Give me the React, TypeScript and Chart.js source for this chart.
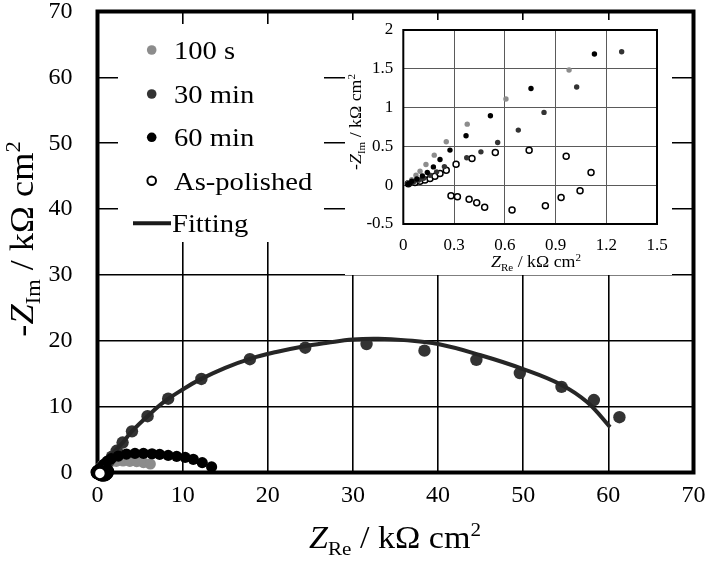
import React, { useEffect, useRef, useState } from 'react';
import { Chart, registerables } from 'chart.js';
Chart.register(...registerables);

// ---------- tick labels ----------
const MAIN_X_TICKS = [0, 10, 20, 30, 40, 50, 60, 70];
const MAIN_Y_TICKS = [0, 10, 20, 30, 40, 50, 60, 70];
const INSET_X_TICKS = [0, 0.3, 0.6, 0.9, 1.2, 1.5];
const INSET_Y_TICKS = [-0.5, 0, 0.5, 1, 1.5, 2];

// ---------- series names ----------
const SERIES_NAMES = ['100 s', '30 min', '60 min', 'As-polished', 'Fitting'];

// ---------- data (kΩ cm²) ----------
const S100_X = [0.03, 0.05, 0.075, 0.099, 0.134, 0.183, 0.254, 0.378, 0.607, 0.98, 1.6, 2.2, 3.0, 3.8, 4.6, 5.4, 6.2];
const S100_Y = [0.03, 0.07, 0.129, 0.18, 0.267, 0.387, 0.559, 0.787, 1.11, 1.484, 1.65, 1.7, 1.75, 1.7, 1.65, 1.5, 1.3];

const S30_X = [0.03, 0.06, 0.09, 0.12, 0.158, 0.197, 0.243, 0.375, 0.459, 0.558, 0.68, 0.832, 1.025, 1.291, 1.7, 2.25, 2.95, 4.05, 5.88, 8.3, 12.2, 17.9, 24.4, 31.6, 38.4, 44.5, 49.6, 54.5, 58.3, 61.3];
const S30_Y = [0.02, 0.04, 0.065, 0.09, 0.129, 0.172, 0.24, 0.353, 0.43, 0.551, 0.71, 0.938, 1.265, 1.72, 2.4, 3.3, 4.55, 6.25, 8.55, 11.2, 14.2, 17.2, 18.95, 19.5, 18.5, 17.1, 15.1, 13.0, 11.0, 8.4];

const S60_X = [0.03, 0.05, 0.08, 0.113, 0.142, 0.178, 0.217, 0.276, 0.371, 0.515, 0.755, 1.13, 1.6, 2.45, 3.4, 4.4, 5.4, 6.4, 7.3, 8.3, 9.3, 10.3, 11.25, 12.3, 13.4];
const S60_Y = [0.02, 0.05, 0.08, 0.12, 0.163, 0.236, 0.331, 0.452, 0.637, 0.895, 1.247, 1.69, 2.1, 2.5, 2.8, 2.9, 2.9, 2.85, 2.75, 2.6, 2.45, 2.3, 2.0, 1.5, 0.85];

const POL_X = [0.03, 0.069, 0.099, 0.128, 0.158, 0.187, 0.217, 0.254, 0.312, 0.406, 0.544, 0.744, 0.963, 1.11, 1.045, 0.933, 0.84, 0.643, 0.481, 0.434, 0.389, 0.32, 0.282];
const POL_Y = [0.02, 0.035, 0.052, 0.068, 0.086, 0.116, 0.151, 0.193, 0.27, 0.343, 0.42, 0.45, 0.373, 0.163, -0.073, -0.159, -0.266, -0.321, -0.283, -0.227, -0.18, -0.15, -0.137];

const FIT_X = [0, 0.5, 1, 2, 3, 4, 6, 8, 10, 12, 15, 18, 21, 24, 27, 30, 33, 36, 40, 45, 50, 54.5, 57.5, 60.2];
const FIT_Y = [0, 0.8, 1.6, 3.2, 4.6, 6.2, 8.7, 10.9, 12.6, 14.1, 15.9, 17.3, 18.3, 19.1, 19.7, 20.2, 20.3, 20.1, 19.5, 17.8, 15.7, 13.3, 10.7, 6.9];

const pts = (xs: number[], ys: number[]) => xs.map((x, i) => ({ x, y: ys[i] }));

const FONT = "'Liberation Serif'";
const C100 = '#8c8c8c';
const C30 = '#333333';
const C60 = '#000000';

type Part = { t: string; it?: boolean; sub?: boolean; sup?: boolean };

function partFont(p: Part, size: number) {
  const s = p.sub || p.sup ? size * 0.62 : size;
  return `${p.it ? 'italic ' : ''}${s}px ${FONT}`;
}

function drawRich(ctx: CanvasRenderingContext2D, parts: Part[], size: number, cx: number, cy: number, rot: number, stretch: number) {
  ctx.save();
  ctx.translate(cx, cy);
  if (rot) ctx.rotate(rot);
  ctx.scale(stretch, 1);
  let w = 0;
  for (const p of parts) {
    ctx.font = partFont(p, size);
    w += ctx.measureText(p.t).width;
  }
  let x = -w / 2;
  ctx.fillStyle = '#000';
  ctx.textBaseline = 'alphabetic';
  ctx.textAlign = 'left';
  for (const p of parts) {
    ctx.font = partFont(p, size);
    const dy = p.sub ? size * 0.22 : p.sup ? -size * 0.38 : 0;
    ctx.fillText(p.t, x, dy);
    x += ctx.measureText(p.t).width;
  }
  ctx.restore();
}

function drawText(ctx: CanvasRenderingContext2D, t: string, size: number, x: number, y: number, stretch: number) {
  ctx.save();
  ctx.translate(x, y);
  ctx.scale(stretch, 1);
  ctx.font = `${size}px ${FONT}`;
  ctx.fillStyle = '#000';
  ctx.textAlign = 'left';
  ctx.textBaseline = 'alphabetic';
  ctx.fillText(t, 0, 0);
  ctx.restore();
}

const X_TITLE: Part[] = [{ t: 'Z', it: true }, { t: 'Re', sub: true }, { t: ' / kΩ cm' }, { t: '2', sup: true }];
const Y_TITLE: Part[] = [{ t: '-' }, { t: 'Z', it: true }, { t: 'Im', sub: true }, { t: ' / kΩ cm' }, { t: '2', sup: true }];

const noPadH = (s: any) => { s.paddingLeft = 0; s.paddingRight = 0; };
const noPadV = (s: any) => { s.paddingTop = 0; s.paddingBottom = 0; };

export default function App() {
  const mainRef = useRef<HTMLCanvasElement>(null);
  const insetRef = useRef<HTMLCanvasElement>(null);
  const [ready, setReady] = useState(false);

  useEffect(() => {
    const fs: any = (document as any).fonts;
    if (!fs) { setReady(true); return; }
    Promise.all([
      fs.load(`16px ${FONT}`, 'Z0123456789 kΩ'),
      fs.load(`italic 16px ${FONT}`, 'Z'),
    ]).then(() => setReady(true), () => setReady(true));
  }, []);

  useEffect(() => {
    if (!ready) return;
    const mainDecor = {
      id: 'mainDecor',
      beforeDraw(chart: any) {
        const ctx = chart.ctx;
        ctx.save();
        ctx.fillStyle = '#fff';
        ctx.fillRect(0, 0, chart.width, chart.height);
        ctx.restore();
      },
      beforeDatasetsDraw(chart: any) {
        const ctx = chart.ctx;
        const a = chart.chartArea;
        ctx.save();
        ctx.fillStyle = '#fff';
        ctx.fillRect(118, 24, 206, 218);
        ctx.strokeStyle = '#000';
        ctx.lineWidth = 4;
        ctx.strokeRect(a.left, a.top, a.right - a.left, a.bottom - a.top);
        ctx.restore();
      },
      afterDraw(chart: any) {
        const ctx = chart.ctx;
        ctx.save();
        const mx = 151.7;
        const ys = [50, 94, 137.3, 180.7, 223.3];
        const cols = [C100, C30, C60];
        for (let i = 0; i < 3; i++) {
          ctx.beginPath();
          ctx.arc(mx, ys[i], 4.8, 0, Math.PI * 2);
          ctx.fillStyle = cols[i];
          ctx.fill();
        }
        ctx.beginPath();
        ctx.arc(mx, ys[3], 4.3, 0, Math.PI * 2);
        ctx.fillStyle = '#fff';
        ctx.fill();
        ctx.lineWidth = 2;
        ctx.strokeStyle = '#000';
        ctx.stroke();
        ctx.beginPath();
        ctx.moveTo(133, ys[4]);
        ctx.lineTo(171, ys[4]);
        ctx.lineWidth = 4;
        ctx.strokeStyle = '#1a1a1a';
        ctx.stroke();
        for (let i = 0; i < 5; i++) {
          drawText(ctx, SERIES_NAMES[i], 26, i === 4 ? 172 : 174, ys[i] + 9, 1.1);
        }
        drawRich(ctx, X_TITLE, 31, 395, 548, 0, 1.1);
        drawRich(ctx, Y_TITLE, 33, 33, 239, -Math.PI / 2, 1.1);
        ctx.restore();
      },
    };

    const mainChart = new Chart(mainRef.current as HTMLCanvasElement, {
      type: 'scatter',
      data: {
        datasets: [
          {
            label: SERIES_NAMES[3], data: pts(POL_X, POL_Y), order: 0, clip: false,
            pointRadius: 6, pointBackgroundColor: '#fff', pointBorderColor: '#000', pointBorderWidth: 2.5,
            showLine: false,
          },
          {
            label: SERIES_NAMES[2], data: pts(S60_X, S60_Y), order: 1, clip: false,
            pointRadius: 5.6, pointBackgroundColor: C60, pointBorderColor: C60, pointBorderWidth: 0,
            showLine: false,
          },
          {
            label: SERIES_NAMES[4], data: pts(FIT_X, FIT_Y), order: 2, clip: false,
            pointRadius: 0, borderColor: '#262626', borderWidth: 4, showLine: true, tension: 0.4,
          },
          {
            label: SERIES_NAMES[1], data: pts(S30_X, S30_Y), order: 3, clip: false,
            pointRadius: 6.2, pointBackgroundColor: C30, pointBorderColor: C30, pointBorderWidth: 0,
            showLine: false,
          },
          {
            label: SERIES_NAMES[0], data: pts(S100_X, S100_Y), order: 4, clip: false,
            pointRadius: 5.6, pointBackgroundColor: C100, pointBorderColor: C100, pointBorderWidth: 0,
            showLine: false,
          },
        ] as any,
      },
      options: {
        responsive: false,
        devicePixelRatio: 1,
        animation: false,
        events: [],
        layout: { padding: { left: 0, top: 11.5, right: 14.5, bottom: 0 } },
        plugins: { legend: { display: false }, tooltip: { enabled: false }, title: { display: false } },
        scales: {
          x: {
            type: 'linear', min: 0, max: 70,
            afterBuildTicks: (s: any) => { s.ticks = MAIN_X_TICKS.map((v) => ({ value: v })); },
            afterFit: (s: any) => { s.height = 88.5; noPadH(s); },
            ticks: { font: { family: FONT, size: 24 }, color: '#000', padding: 9, maxRotation: 0, callback: (v: any) => String(v) },
            grid: { color: '#000', lineWidth: 1.6, drawTicks: false },
            border: { display: false },
          },
          y: {
            type: 'linear', min: 0, max: 70,
            afterBuildTicks: (s: any) => { s.ticks = MAIN_Y_TICKS.map((v) => ({ value: v })); },
            afterFit: (s: any) => { s.width = 97.5; noPadV(s); },
            ticks: { font: { family: FONT, size: 24 }, color: '#000', padding: 25, callback: (v: any) => String(v) },
            grid: { color: '#000', lineWidth: 1.6, drawTicks: false },
            border: { display: false },
          },
        },
      } as any,
      plugins: [mainDecor],
    });

    const insetDecor = {
      id: 'insetDecor',
      beforeDraw(chart: any) {
        const ctx = chart.ctx;
        ctx.save();
        ctx.fillStyle = '#fff';
        ctx.fillRect(0, 0, chart.width, chart.height);
        ctx.restore();
      },
      beforeDatasetsDraw(chart: any) {
        const ctx = chart.ctx;
        const a = chart.chartArea;
        ctx.save();
        ctx.strokeStyle = '#000';
        ctx.lineWidth = 2;
        ctx.strokeRect(a.left, a.top, a.right - a.left, a.bottom - a.top);
        ctx.restore();
      },
      afterDraw(chart: any) {
        const ctx = chart.ctx;
        drawRich(ctx, X_TITLE, 16.5, 191, 247, 0, 1.08);
        drawRich(ctx, Y_TITLE, 16.5, 16, 102, -Math.PI / 2, 1.08);
      },
    };

    const insetChart = new Chart(insetRef.current as HTMLCanvasElement, {
      type: 'scatter',
      data: {
        datasets: [
          {
            label: SERIES_NAMES[3], data: pts(POL_X, POL_Y), order: 3,
            pointRadius: 3, pointBackgroundColor: '#fff', pointBorderColor: '#000', pointBorderWidth: 1.5, showLine: false,
          },
          {
            label: SERIES_NAMES[2], data: pts(S60_X, S60_Y), order: 0,
            pointRadius: 2.7, pointBackgroundColor: C60, pointBorderColor: C60, pointBorderWidth: 0, showLine: false,
          },
          {
            label: SERIES_NAMES[1], data: pts(S30_X, S30_Y), order: 1,
            pointRadius: 2.7, pointBackgroundColor: C30, pointBorderColor: C30, pointBorderWidth: 0, showLine: false,
          },
          {
            label: SERIES_NAMES[0], data: pts(S100_X, S100_Y), order: 2,
            pointRadius: 2.7, pointBackgroundColor: C100, pointBorderColor: C100, pointBorderWidth: 0, showLine: false,
          },
        ] as any,
      },
      options: {
        responsive: false,
        devicePixelRatio: 1,
        animation: false,
        events: [],
        layout: { padding: { left: 0, top: 10, right: 15, bottom: 0 } },
        plugins: { legend: { display: false }, tooltip: { enabled: false }, title: { display: false } },
        scales: {
          x: {
            type: 'linear', min: 0, max: 1.5,
            afterBuildTicks: (s: any) => { s.ticks = INSET_X_TICKS.map((v) => ({ value: v })); },
            afterFit: (s: any) => { s.height = 51; noPadH(s); },
            ticks: { font: { family: FONT, size: 17 }, color: '#000', padding: 11, maxRotation: 0, callback: (v: any) => String(v) },
            grid: { color: '#5a5a5a', lineWidth: 1, drawTicks: false },
            border: { display: false },
          },
          y: {
            type: 'linear', min: -0.5, max: 2,
            afterBuildTicks: (s: any) => { s.ticks = INSET_Y_TICKS.map((v) => ({ value: v })); },
            afterFit: (s: any) => { s.width = 58.3; noPadV(s); },
            ticks: { font: { family: FONT, size: 17 }, color: '#000', padding: 10, callback: (v: any) => String(v) },
            grid: { color: '#5a5a5a', lineWidth: 1, drawTicks: false },
            border: { display: false },
          },
        },
      } as any,
      plugins: [insetDecor],
    });

    return () => {
      mainChart.destroy();
      insetChart.destroy();
    };
  }, [ready]);

  return (
    <div style={{ position: 'fixed', left: 0, top: 0, width: 708, height: 561, background: '#fff', overflow: 'hidden', fontFamily: FONT }}>
      <canvas ref={mainRef} width={708} height={561} style={{ position: 'absolute', left: 0, top: 0 }} />
      <canvas ref={insetRef} width={327} height={255} style={{ position: 'absolute', left: 345, top: 20 }} />
    </div>
  );
}
